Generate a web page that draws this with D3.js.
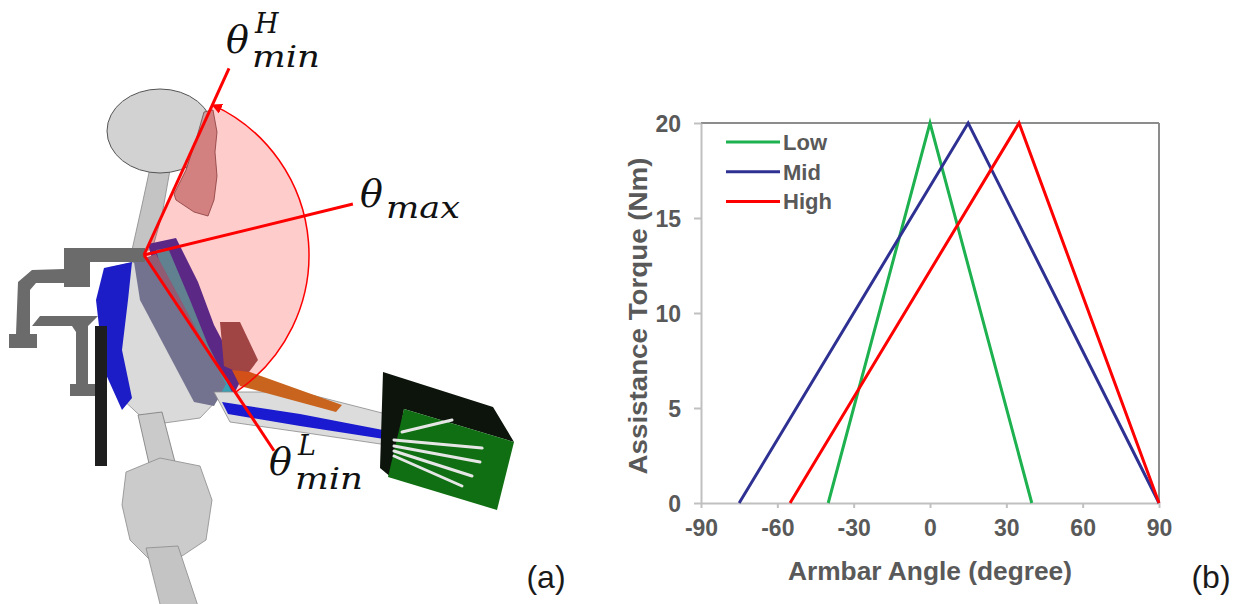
<!DOCTYPE html>
<html>
<head>
<meta charset="utf-8">
<script src="https://cdn.jsdelivr.net/npm/d3@7"></script>
<style>
  body { margin: 0; background: #fff; }
  svg { display: block; }
</style>
</head>
<body>
<div id="figure"></div>
<script>
// ---- chart data (panel b) ----
const xTicks = [-90, -60, -30, 0, 30, 60, 90];
const yTicks = [0, 5, 10, 15, 20];
const seriesNames = ["Low", "Mid", "High"];
const seriesColours = ["#1db14f", "#2e3192", "#ff0000"];
const lowAngle = [-40, 0, 40];
const lowTorque = [0, 20, 0];
const midAngle = [-75, 15, 90];
const midTorque = [0, 20, 0];
const highAngle = [-55, 35, 90];
const highTorque = [0, 20, 0];

// ---- annotation angles for panel a (compass degrees, 0 = up, clockwise) ----
const angleNames = ["minH", "max", "minL"];
const angleDirections = [24.5, 76.3, 146.4];
const angleLengths = [205, 215, 235];

const W = 1256, H = 604;
const svg = d3.select("#figure").append("svg")
    .attr("width", W)
    .attr("height", H);

svg.append("rect").attr("width", W).attr("height", H).attr("fill", "#fff");

// ================= panel (a): simplified figure =================
const figureParts = [
    // neck
    { fill: "#c4c4c4", stroke: "#888", pts: [[150,168],[170,170],[162,215],[152,250],[132,250],[142,205]] },
    // skeleton torso / ribs
    { fill: "#dadada", stroke: "#8a8a8a", pts: [[108,268],[145,260],[185,300],[210,350],[222,395],[200,418],[150,425],[118,395],[102,330]] },
    // lower spine
    { fill: "#cacaca", stroke: "#777", pts: [[138,415],[162,412],[175,462],[150,468]] },
    // pelvis
    { fill: "#cbcbcb", stroke: "#8a8a8a", pts: [[126,472],[160,458],[200,466],[212,500],[206,540],[182,556],[150,560],[130,540],[122,505]] },
    // femur
    { fill: "#c4c4c4", stroke: "#8a8a8a", pts: [[146,548],[178,546],[200,612],[162,612]] },
    // back muscles
    { fill: "#1d1dc8", stroke: "none", pts: [[104,268],[132,262],[128,300],[122,350],[132,398],[122,410],[104,370],[96,300]] },
    // shoulder muscles
    { fill: "#3232a8", stroke: "none", pts: [[148,244],[176,238],[198,282],[214,325],[242,378],[230,402],[200,372],[164,302]] },
    { fill: "#3aa0b4", stroke: "none", pts: [[156,250],[168,248],[190,300],[208,345],[232,392],[222,398],[196,355],[170,300]] },
    // upper arm cuff
    { fill: "#737390", stroke: "none", pts: [[134,262],[156,254],[226,384],[214,406],[194,402],[140,300]] },
    { fill: "#8a5656", stroke: "none", pts: [[220,322],[240,322],[258,360],[246,376],[224,366]] },
    // forearm bones
    { fill: "#dcdcdc", stroke: "#8a8a8a", pts: [[214,392],[300,392],[386,414],[394,446],[300,432],[230,422]] },
    // forearm muscles
    { fill: "#1a1ad0", stroke: "none", pts: [[222,402],[300,414],[414,436],[410,443],[300,426],[228,414]] },
    { fill: "#c8641e", stroke: "none", pts: [[232,370],[250,372],[342,405],[336,412],[240,386]] },
    // exoskeleton
    { fill: "#6b6b6b", stroke: "none", pts: [[64,248],[145,248],[145,262],[90,262],[90,287],[64,287]] },
    { fill: "#6b6b6b", stroke: "none", pts: [[64,269],[32,270],[18,282],[16,334],[9,334],[9,348],[37,348],[37,334],[30,334],[30,290],[36,283],[64,283]] },
    { fill: "#6b6b6b", stroke: "none", pts: [[98,316],[40,316],[32,326],[72,326],[76,332],[76,384],[70,384],[70,396],[95,396],[95,384],[88,384],[88,326]] },
    { fill: "#1e1e1e", stroke: "none", pts: [[95,326],[107,326],[107,466],[95,466]] },
    // hand box
    { fill: "#0c140c", stroke: "none", pts: [[383,372],[493,407],[514,442],[404,409],[392,478],[380,468]] },
    { fill: "#0f6f12", stroke: "none", pts: [[404,409],[514,442],[497,510],[388,477]] }
];

const figLine = d3.line().curve(d3.curveLinearClosed);
const fig = svg.append("g").attr("class", "figure-a");

fig.selectAll("path.part")
    .data(figureParts)
    .enter().append("path")
    .attr("class", "part")
    .attr("d", d => figLine(d.pts))
    .attr("fill", d => d.fill)
    .attr("stroke", d => d.stroke)
    .attr("stroke-width", 0.8);

// skull
fig.append("ellipse")
    .attr("cx", 160).attr("cy", 131).attr("rx", 53).attr("ry", 42)
    .attr("fill", "#d2d2d2").attr("stroke", "#555").attr("stroke-width", 1);
fig.append("path")
    .attr("d", figLine([[204,112],[213,110],[217,132],[215,152],[217,176],[214,200],[208,216],[194,212],[176,200],[174,194],[186,170],[196,140]]))
    .attr("fill", "#c9a0a0").attr("stroke", "#6a4a4a").attr("stroke-width", 0.8);

// finger bones
const fingerBones = [
    [[394,440],[482,448]], [[394,446],[480,462]], [[394,451],[472,476]],
    [[394,456],[462,486]], [[402,432],[452,420]]
];
fig.selectAll("line.finger")
    .data(fingerBones)
    .enter().append("line")
    .attr("class", "finger")
    .attr("x1", d => d[0][0]).attr("y1", d => d[0][1])
    .attr("x2", d => d[1][0]).attr("y2", d => d[1][1])
    .attr("stroke", "#e6e6e6")
    .attr("stroke-width", 3)
    .attr("stroke-linecap", "round");

// ---- angle annotation ----
const pivot = [144, 255];
const arcRadius = 165;
const toRad = deg => deg * Math.PI / 180;

svg.append("defs").append("marker")
    .attr("id", "arrow")
    .attr("viewBox", "0 0 10 10")
    .attr("refX", 9).attr("refY", 5)
    .attr("markerWidth", 7).attr("markerHeight", 7)
    .attr("orient", "auto")
    .append("path")
    .attr("d", "M0,0L10,5L0,10z")
    .attr("fill", "#ff0000");

const sector = d3.arc()
    .innerRadius(0)
    .outerRadius(arcRadius)
    .startAngle(toRad(angleDirections[0]))
    .endAngle(toRad(angleDirections[2]));

const ann = svg.append("g").attr("transform", `translate(${pivot[0]},${pivot[1]})`);

ann.append("path")
    .attr("d", sector())
    .attr("fill", "#ff0000")
    .attr("fill-opacity", 0.2);

const arcPath = d3.path();
arcPath.arc(0, 0, arcRadius, toRad(angleDirections[2] - 90), toRad(angleDirections[0] - 90), true);
ann.append("path")
    .attr("d", arcPath.toString())
    .attr("fill", "none")
    .attr("stroke", "#ff0000")
    .attr("stroke-width", 1.5)
    .attr("marker-end", "url(#arrow)");

ann.selectAll("line.ray")
    .data(angleNames)
    .enter().append("line")
    .attr("class", "ray")
    .attr("x1", 0).attr("y1", 0)
    .attr("x2", (d, i) => angleLengths[i] * Math.sin(toRad(angleDirections[i])))
    .attr("y2", (d, i) => -angleLengths[i] * Math.cos(toRad(angleDirections[i])))
    .attr("stroke", "#ff0000")
    .attr("stroke-width", 3);

const mathFont = "'DejaVu Serif', 'Liberation Serif', serif";
const thetaLabels = [
    { x: 226, y: 53, sup: "H", sub: "min", subW: 68 },
    { x: 360, y: 207, sup: "", sub: "max", subW: 74 },
    { x: 269, y: 475, sup: "L", sub: "min", subW: 68 }
];
const lab = svg.selectAll("g.theta")
    .data(thetaLabels)
    .enter().append("g")
    .attr("class", "theta")
    .style("font-family", mathFont)
    .style("font-style", "italic")
    .attr("fill", "#111");

lab.append("text")
    .attr("x", d => d.x).attr("y", d => d.y)
    .style("font-size", "38px")
    .text("\u03b8");
lab.append("text")
    .attr("x", d => d.x + 29).attr("y", d => d.y - 20)
    .style("font-size", "27px")
    .text(d => d.sup);
lab.append("text")
    .attr("x", d => d.x + 26).attr("y", d => d.y + (d.sup ? 14 : 11))
    .attr("textLength", d => d.subW)
    .attr("lengthAdjust", "spacingAndGlyphs")
    .style("font-size", "30px")
    .text(d => d.sub);

// ================= panel (b): chart =================
const plot = { left: 701, right: 1159, top: 123, bottom: 503 };
const chartFont = "'Liberation Sans', Arial, sans-serif";
const textGrey = "#595959";

const x = d3.scaleLinear().domain([-90, 90]).range([plot.left, plot.right]);
const y = d3.scaleLinear().domain([0, 20]).range([plot.bottom, plot.top]);

const chart = svg.append("g").style("font-family", chartFont);

// frame top and right
chart.append("line")
    .attr("x1", x(-90)).attr("x2", x(90)).attr("y1", y(20)).attr("y2", y(20))
    .attr("stroke", "#8c8c8c").attr("stroke-width", 2);
chart.append("line")
    .attr("x1", x(90)).attr("x2", x(90)).attr("y1", y(0)).attr("y2", y(20))
    .attr("stroke", "#8c8c8c").attr("stroke-width", 2);

const xAxisGroup = chart.append("g")
    .attr("transform", `translate(0,${plot.bottom})`)
    .call(d3.axisBottom(x).tickValues(xTicks).tickFormat(d => String(d))
        .tickSize(5).tickSizeOuter(0).tickPadding(12));

const yAxisGroup = chart.append("g")
    .attr("transform", `translate(${plot.left},0)`)
    .call(d3.axisLeft(y).tickValues(yTicks).tickFormat(d => String(d))
        .tickSize(7).tickSizeOuter(0).tickPadding(13));

[xAxisGroup, yAxisGroup].forEach(g => {
    g.selectAll("line").style("stroke", "#c0c0c0").style("stroke-width", 2);
    g.selectAll("path").style("stroke", "#c0c0c0").style("stroke-width", 2);
    g.selectAll("text")
        .style("fill", textGrey)
        .style("font-size", "23px")
        .style("font-weight", "bold")
        .style("font-family", chartFont);
});
yAxisGroup.selectAll("text").attr("dy", "0.36em");

chart.append("text")
    .attr("x", (plot.left + plot.right) / 2)
    .attr("y", 580)
    .attr("text-anchor", "middle")
    .attr("textLength", 284)
    .attr("lengthAdjust", "spacingAndGlyphs")
    .style("font-size", "26px")
    .style("font-weight", "bold")
    .style("fill", textGrey)
    .text("Armbar Angle (degree)");

chart.append("text")
    .attr("transform", `translate(647,316) rotate(-90)`)
    .attr("text-anchor", "middle")
    .attr("textLength", 317)
    .attr("lengthAdjust", "spacingAndGlyphs")
    .style("font-size", "26px")
    .style("font-weight", "bold")
    .style("fill", textGrey)
    .text("Assistance  Torque (Nm)");

// series
const seriesData = [
    lowAngle.map((a, i) => ({ angle: a, torque: lowTorque[i] })),
    midAngle.map((a, i) => ({ angle: a, torque: midTorque[i] })),
    highAngle.map((a, i) => ({ angle: a, torque: highTorque[i] }))
];

const line = d3.line()
    .x(d => x(d.angle))
    .y(d => y(d.torque));

chart.selectAll("path.series")
    .data(seriesData)
    .enter().append("path")
    .attr("class", "series")
    .attr("d", line)
    .attr("fill", "none")
    .attr("stroke", (d, i) => seriesColours[i])
    .attr("stroke-width", 3)
    .attr("stroke-linejoin", "miter");

// legend
const legend = chart.selectAll(".legend")
    .data(seriesNames)
    .enter().append("g")
    .attr("class", "legend")
    .attr("transform", (d, i) => `translate(726,${142 + i * 29.7})`);

legend.append("line")
    .attr("x1", 0).attr("x2", 54)
    .attr("y1", 0).attr("y2", 0)
    .attr("stroke", (d, i) => seriesColours[i])
    .attr("stroke-width", 3);

legend.append("text")
    .attr("x", 57)
    .attr("y", 0)
    .attr("dy", "0.36em")
    .style("font-size", "22px")
    .style("font-weight", "bold")
    .style("fill", textGrey)
    .text(d => d);

// panel labels
svg.selectAll("text.panel")
    .data([{ t: "(a)", x: 546 }, { t: "(b)", x: 1211 }])
    .enter().append("text")
    .attr("class", "panel")
    .attr("x", d => d.x)
    .attr("y", 588)
    .attr("text-anchor", "middle")
    .style("font-family", chartFont)
    .style("font-size", "32px")
    .style("fill", "#1a1a1a")
    .text(d => d.t);
</script>
</body>
</html>
